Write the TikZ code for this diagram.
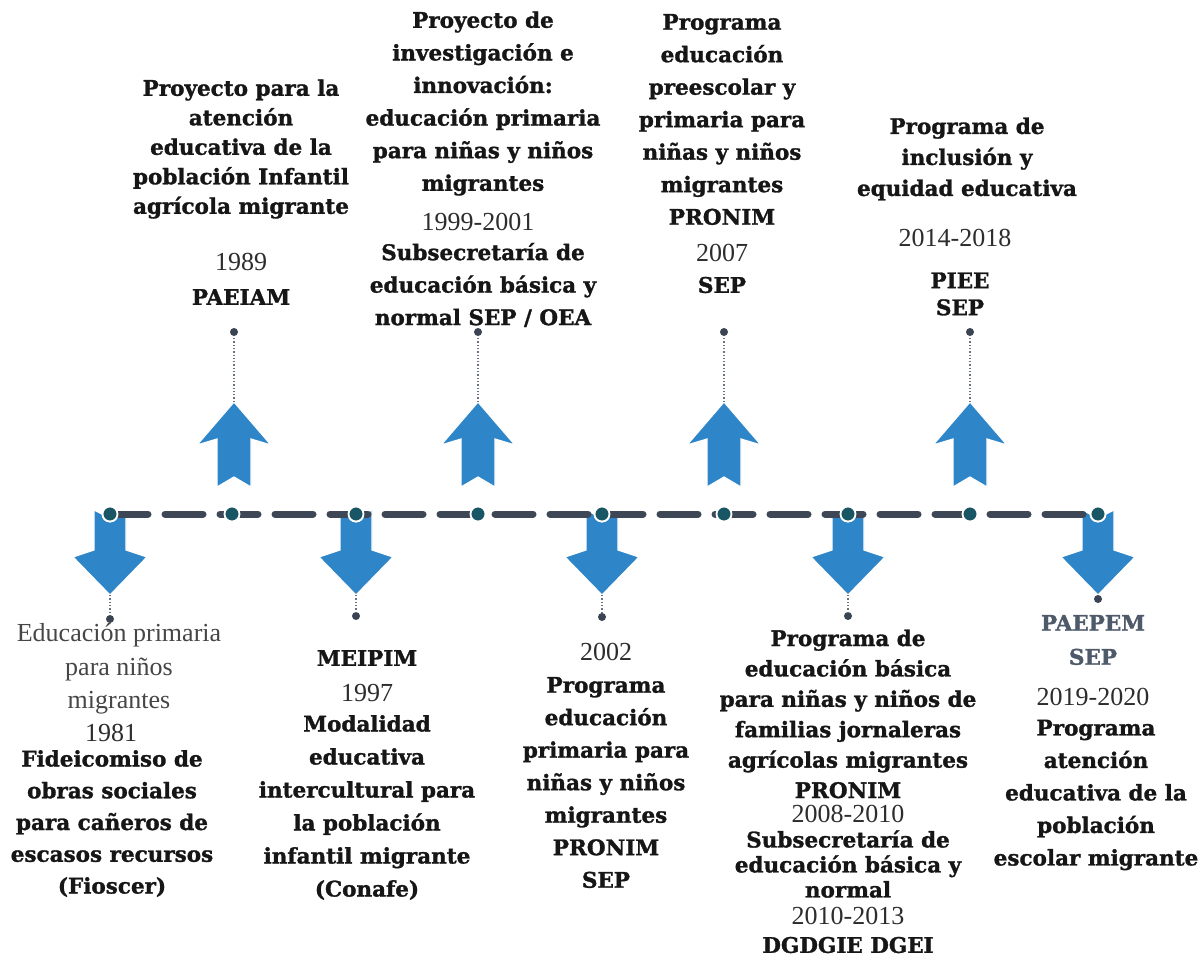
\documentclass[tikz,border=0pt]{standalone}
\usepackage{fontspec}
\setmainfont{Liberation Serif}
\newfontfamily\slab{DejaVu Serif}[BoldFeatures={FakeBold=1.3}]
\definecolor{arrowblue}{RGB}{46,134,200}
\definecolor{lineslate}{RGB}{61,71,86}
\definecolor{dotteal}{RGB}{24,86,102}
\definecolor{stemdot}{RGB}{58,68,82}
\definecolor{stemgray}{RGB}{105,115,128}
\definecolor{txt}{RGB}{22,22,22}
\definecolor{yeartxt}{RGB}{45,45,45}
\definecolor{greytxt}{RGB}{70,70,70}
\definecolor{bluegrey}{RGB}{78,90,106}
\begin{document}
\begin{tikzpicture}[x=1pt,y=-1pt,
  arrowfill/.style={fill=arrowblue,draw=white,line width=1.2pt,line join=miter},
  uparr/.pic={\path[arrowfill] (0,0) -- (37,43) -- (17,37) -- (17,85) -- (0,75) -- (-17,85) -- (-17,37) -- (-37,43) -- cycle; \coordinate (-tip) at (0,0);},
  downarr/.pic={\path[arrowfill] (-16,0) -- (0,8) -- (16,0) -- (16,40) -- (37,47) -- (0,85) -- (-37,47) -- (-16,40) -- cycle; \coordinate (-tip) at (0,85);},
  tdot/.style={circle,fill=dotteal,draw=white,line width=1.8pt,minimum size=15pt,inner sep=0},
  sdot/.style={circle,fill=stemdot,minimum size=8pt,inner sep=0},
  stem/.style={draw=stemgray,line width=1.3pt,dotted},
  timeline/.style={draw=lineslate,line width=7pt,line cap=round,dash pattern=on 38pt off 17pt},
  bt/.style={font=\slab\bfseries\fontsize{21.5}{#1}\selectfont,align=center,inner sep=0,text=txt},
  yr/.style={font=\fontsize{26}{30}\selectfont,align=center,inner sep=0,text=yeartxt},
  rg/.style={font=\fontsize{26}{#1}\selectfont,align=center,inner sep=0,text=greytxt},
]
\useasboundingbox (0,0) rectangle (1204,964);
\fill[white] (0,0) rectangle (1204,964);

% arrows
\pic (u1) at (234,402) {uparr};
\pic (u2) at (478,402) {uparr};
\pic (u3) at (724,402) {uparr};
\pic (u4) at (970,402) {uparr};
\pic (d1) at (110,510) {downarr};
\pic (d2) at (356,510) {downarr};
\pic (d3) at (602,510) {downarr};
\pic (d4) at (848,510) {downarr};
\pic (d5) at (1098,510) {downarr};

% timeline dots
\node[tdot] (t1) at (110,514) {};
\node[tdot] (t2) at (232,514) {};
\node[tdot] (t3) at (356,514) {};
\node[tdot] (t4) at (478,514) {};
\node[tdot] (t5) at (602,514) {};
\node[tdot] (t6) at (724,514) {};
\node[tdot] (t7) at (848,514) {};
\node[tdot] (t8) at (970,514) {};
\node[tdot] (t9) at (1098,514) {};
\draw[timeline] (t1.center) -- (t9.center);
\foreach \x in {110,232,356,478,602,724,848,970,1098}
  \node[tdot] at (\x,514) {};

% stem dots and stems
\node[sdot] (su1) at (234,332) {};
\node[sdot] (su2) at (478,332) {};
\node[sdot] (su3) at (724,332) {};
\node[sdot] (su4) at (970,332) {};
\node[sdot] (sd1) at (110,619) {};
\node[sdot] (sd2) at (356,616) {};
\node[sdot] (sd3) at (602,617) {};
\node[sdot] (sd4) at (848,616) {};
\node[sdot] (sd5) at (1098,599) {};
\foreach \a in {u1,u2,u3,u4,d1,d2,d3,d4}
  \draw[stem] (\a-tip) -- (s\a);

% upper texts
\node[bt=29.5pt] (U1a) at (241,149) {Proyecto para la\\atención\\educativa de la\\población Infantil\\agrícola migrante};
\node[yr] (U1b) at (241,262) {1989};
\node[bt=30pt] (U1c) at (241,297) {PAEIAM};

\node[bt=32.6pt] (U2a) at (483,103.5) {Proyecto de\\investigación e\\innovación:\\educación primaria\\para niñas y niños\\migrantes};
\node[yr] (U2b) at (478,222) {1999-2001};
\node[bt=32.5pt] (U2c) at (483,285) {Subsecretaría de\\educación básica y\\normal SEP / OEA};

\node[bt=32.5pt] (U3a) at (722,119.5) {Programa\\educación\\preescolar y\\primaria para\\niñas y niños\\migrantes\\PRONIM};
\node[yr] (U3b) at (722,253) {2007};
\node[bt=30pt] (U3c) at (722,285) {SEP};

\node[bt=31pt] (U4a) at (967,159) {Programa de\\inclusión y\\equidad educativa};
\node[yr] (U4b) at (955,238) {2014-2018};
\node[bt=27pt] (U4c) at (960,294) {PIEE\\SEP};

% lower texts
\node[rg=33.5pt] (D1a) at (119,669) {Educación primaria\\para niños\\migrantes};
\node[yr] (D1b) at (111,733) {1981};
\node[bt=31.75pt] (D1c) at (112,823.5) {Fideicomiso de\\obras sociales\\para cañeros de\\escasos recursos\\(Fioscer)};

\node[bt=30pt] (D2a) at (367,658) {MEIPIM};
\node[yr] (D2b) at (367,693) {1997};
\node[bt=33pt] (D2c) at (367,807.5) {Modalidad\\educativa\\intercultural para\\la población\\infantil migrante\\(Conafe)};

\node[yr] (D3a) at (606,652) {2002};
\node[bt=32.5pt] (D3b) at (606,782.5) {Programa\\educación\\primaria para\\niñas y niños\\migrantes\\PRONIM\\SEP};

\node[bt=30.4pt] (D4a) at (848,714) {Programa de\\educación básica\\para niñas y niños de\\familias jornaleras\\agrícolas migrantes\\PRONIM};
\node[yr] (D4b) at (848,814) {2008-2010};
\node[bt=25pt] (D4c) at (848,864) {Subsecretaría de\\educación básica y\\normal};
\node[yr] (D4d) at (848,916) {2010-2013};
\node[bt=30pt] (D4e) at (848,945) {DGDGIE DGEI};

\node[bt=34pt,text=bluegrey] (D5a) at (1093,640) {PAEPEM\\SEP};
\node[yr] (D5b) at (1093,697) {2019-2020};
\node[bt=32.5pt] (D5c) at (1096,795) {Programa\\atención\\educativa de la\\población\\escolar migrante};
\end{tikzpicture}
\end{document}
